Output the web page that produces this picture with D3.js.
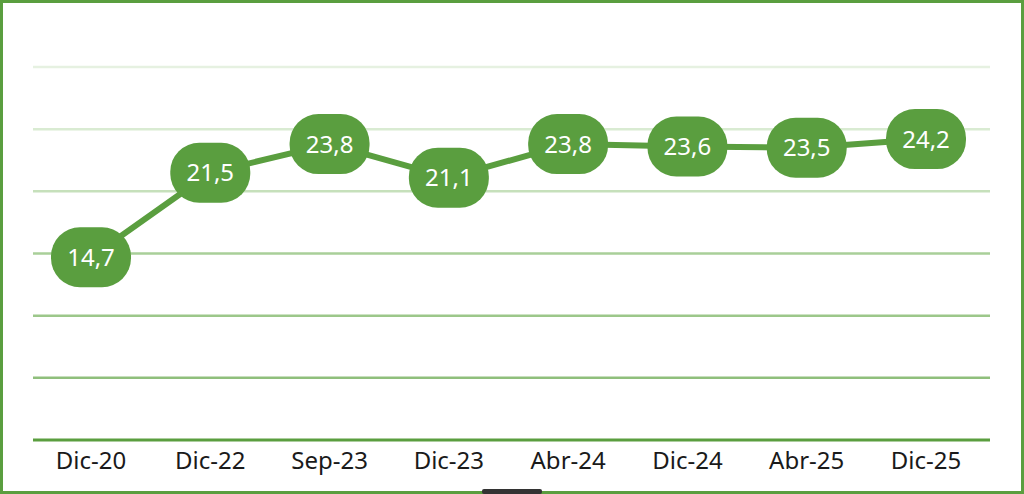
<!DOCTYPE html>
<html><head><meta charset="utf-8">
<script src="https://cdn.jsdelivr.net/npm/d3@7/dist/d3.min.js"></script>
<style>body{margin:0;background:#fff}svg{display:block}</style>
</head><body><svg id="c" width="1024" height="494"></svg>
<script>
const categories = ["Dic-20","Dic-22","Sep-23","Dic-23","Abr-24","Dic-24","Abr-25","Dic-25"];
const values = [14.7,21.5,23.8,21.1,23.8,23.6,23.5,24.2];
const labels = ["14,7","21,5","23,8","21,1","23,8","23,6","23,5","24,2"];
const gridValues = [0,5,10,15,20,25,30];
const gridColors = ["#5a9e3f","#8fbf7c","#9cc78a","#a9cf99","#c6e0bb","#d9ebd2","#e6f1e1"];

const svg = d3.select("#c");
svg.append("rect").attr("x",1.5).attr("y",1.5).attr("width",1021).attr("height",491)
  .attr("fill","#fff").attr("stroke","#5a9e3f").attr("stroke-width",3);
svg.append("rect").attr("x",482).attr("y",489).attr("width",60).attr("height",5).attr("rx",2).attr("fill","#333");

const x = d3.scalePoint().domain(categories).range([91,926]);
const y = d3.scaleLinear().domain([0,30]).range([440,67]);

svg.selectAll(".g").data(gridValues).join("line")
  .attr("x1",33).attr("x2",990).attr("y1",d=>y(d)).attr("y2",d=>y(d))
  .attr("stroke",(d,i)=>gridColors[i]).attr("stroke-width",(d,i)=>i===0?3:2.5);

const line = d3.line().x((d,i)=>x(categories[i])).y(d=>y(d));
svg.append("path").datum(values).attr("d",line).attr("fill","none")
  .attr("stroke","#5a9e3f").attr("stroke-width",6).attr("stroke-linejoin","round");

const g = svg.selectAll(".p").data(values).join("g")
  .attr("transform",(d,i)=>`translate(${x(categories[i])},${y(d)})`);
g.append("rect").attr("x",-40).attr("y",-30).attr("width",80).attr("height",60).attr("rx",29)
  .attr("fill","#5a9e3f");
g.append("text").text((d,i)=>labels[i]).attr("text-anchor","middle").attr("dy","0.36em")
  .attr("fill","#fff").attr("font-family","Noto Sans, sans-serif").attr("font-size",24);

svg.selectAll(".xl").data(categories).join("text")
  .attr("x",d=>x(d)).attr("y",469).attr("text-anchor","middle").text(d=>d)
  .attr("fill","#1a1a1a").attr("font-family","Noto Sans, sans-serif").attr("font-size",24);
</script></body></html>
